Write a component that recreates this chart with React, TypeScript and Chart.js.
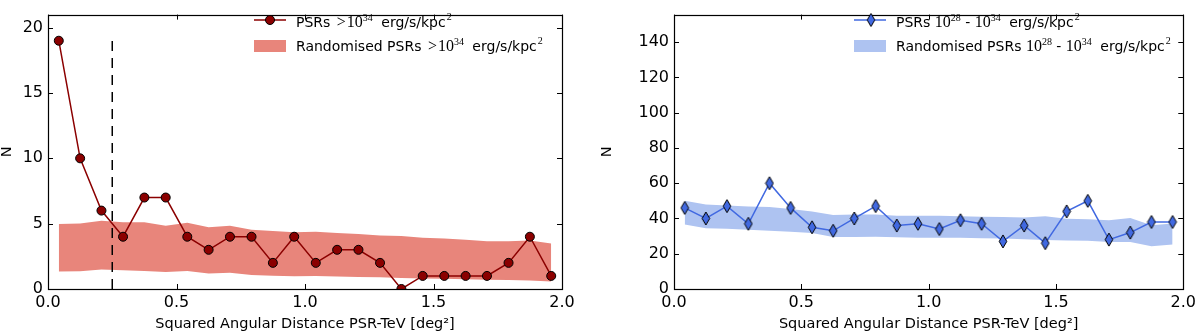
import React, { useEffect, useRef } from "react";
import { Chart, registerables } from "chart.js";

Chart.register(...registerables);

// ---------- data ----------
const binCenters = [0.042, 0.125, 0.208, 0.292, 0.375, 0.458, 0.542, 0.625, 0.708, 0.792, 0.875, 0.958, 1.042, 1.125, 1.208, 1.292, 1.375, 1.458, 1.542, 1.625, 1.708, 1.792, 1.875, 1.958];
const highCounts = [19, 10, 6, 4, 7, 7, 4, 3, 4, 4, 2, 4, 2, 3, 3, 2, 0, 1, 1, 1, 1, 2, 4, 1];
const highRandUpper = [4.97, 5.02, 5.22, 5.1, 5.1, 4.85, 5.07, 4.73, 4.85, 4.54, 4.44, 4.34, 4.39, 4.29, 4.2, 4.1, 4.05, 3.93, 3.86, 3.76, 3.66, 3.66, 3.71, 3.49];
const highRandLower = [1.33, 1.36, 1.5, 1.43, 1.38, 1.31, 1.38, 1.19, 1.24, 1.08, 1.02, 0.98, 1.0, 0.95, 0.92, 0.9, 0.85, 0.8, 0.78, 0.75, 0.7, 0.68, 0.65, 0.58];
const midCounts = [46, 40, 47, 37, 60, 46, 35, 33, 40, 47, 36, 37, 34, 39, 37, 27, 36, 26, 44, 50, 28, 32, 38, 38];
const midRandUpper = [50, 47.9, 47.3, 46.8, 46.5, 45.3, 44.0, 42.0, 42.2, 42.3, 41.5, 41.5, 41.5, 41.2, 41.0, 40.8, 40.6, 41.2, 39.9, 39.5, 39.0, 40.2, 36.2, 37.1];
const midRandLower = [36.6, 34.5, 34.1, 33.6, 33.0, 32.5, 31.8, 29.5, 29.5, 29.6, 29.3, 29.1, 29.1, 29.0, 28.8, 28.6, 28.2, 27.8, 27.5, 27.3, 26.7, 26.6, 24.2, 25.3];
const cutX = [0.25, 0.25];
const cutY = [0, 19];
const xTicks = [0, 0.5, 1.0, 1.5, 2.0];
const leftYTicks = [0, 5, 10, 15, 20];
const rightYTicks = [0, 20, 40, 60, 80, 100, 120, 140];
const xTitle = "Squared Angular Distance PSR-TeV [deg²]";
const yTitle = "N";

// ---------- styles ----------
const SANS = "'DejaVu Sans', sans-serif";
const SERIF = "'Liberation Serif', serif";
const RED = "#8b0000";
const RED_BAND = "#e8857b";
const BLUE = "#4169e1";
const BLUE_BAND = "#aec3f1";

type Seg = { t: string; font: string; dy?: number; gap?: number };
const s14 = `14px ${SANS}`;
const m16 = `16px ${SERIF}`;
const m10 = `10px ${SERIF}`;

const unitSegs: Seg[] = [
  { t: " erg/s/kpc", font: s14, gap: 4 },
  { t: "2", font: m10, dy: -7, gap: 1 },
];
const highLabel: Seg[] = [
  { t: "PSRs ", font: s14 },
  { t: ">", font: m16, gap: 2 },
  { t: "10", font: m16, gap: 1 },
  { t: "34", font: m10, dy: -6 },
  ...unitSegs,
];
const midLabel: Seg[] = [
  { t: "10", font: m16 },
  { t: "28", font: m10, dy: -6 },
  { t: " - ", font: s14 },
  { t: "10", font: m16 },
  { t: "34", font: m10, dy: -6 },
  ...unitSegs,
];

function pts(xs: number[], ys: number[]) {
  return xs.map((x, i) => ({ x, y: ys[i] }));
}

function drawSegs(ctx: CanvasRenderingContext2D, segs: Seg[], x: number, y: number) {
  let cx = x;
  for (const s of segs) {
    cx += s.gap || 0;
    ctx.font = s.font;
    ctx.fillText(s.t, cx, y + (s.dy || 0));
    cx += ctx.measureText(s.t).width;
  }
}

function makeDiamond(): HTMLCanvasElement {
  const c = document.createElement("canvas");
  c.width = 10;
  c.height = 15;
  const g = c.getContext("2d")!;
  g.beginPath();
  g.moveTo(5, 1);
  g.lineTo(8.8, 7.5);
  g.lineTo(5, 14);
  g.lineTo(1.2, 7.5);
  g.closePath();
  g.fillStyle = BLUE;
  g.fill();
  g.lineWidth = 1;
  g.strokeStyle = "#000";
  g.stroke();
  return c;
}

type Spec = {
  ymax: number;
  yTicks: number[];
  yWidth: number;
  padRight: number;
  counts: number[];
  upper: number[];
  lower: number[];
  color: string;
  band: string;
  diamond: boolean;
  showCut: boolean;
  row1: Seg[];
  row2: Seg[];
};

function buildChart(canvas: HTMLCanvasElement, sp: Spec) {
  const diamond = sp.diamond ? makeDiamond() : null;
  const datasets: any[] = [
    {
      label: "data",
      data: pts(binCenters, sp.counts),
      borderColor: sp.color,
      borderWidth: 1.5,
      pointStyle: diamond ? diamond : "circle",
      pointRadius: 4.5,
      pointBackgroundColor: sp.color,
      pointBorderColor: "#000",
      pointBorderWidth: 1,
      tension: 0,
      fill: false,
      clip: 0,
    },
  ];
  if (sp.showCut) {
    datasets.push({
      label: "cut",
      data: pts(cutX, cutY),
      borderColor: "#000",
      borderWidth: 1.5,
      borderDash: [10, 7],
      pointRadius: 0,
      fill: false,
    });
  }
  const lowerIndex = datasets.length;
  datasets.push({
    label: "lower",
    data: pts(binCenters, sp.lower),
    borderWidth: 0,
    borderColor: "rgba(0,0,0,0)",
    pointRadius: 0,
    fill: false,
  });
  datasets.push({
    label: "upper",
    data: pts(binCenters, sp.upper),
    borderWidth: 0,
    borderColor: "rgba(0,0,0,0)",
    backgroundColor: sp.band,
    pointRadius: 0,
    fill: { target: lowerIndex },
  });

  const framePlugin = {
    id: "frameTicks",
    afterDatasetsDraw(chart: any) {
      const { ctx, chartArea: a, scales } = chart;
      ctx.save();
      ctx.strokeStyle = "#000";
      ctx.lineWidth = 1;
      ctx.beginPath();
      for (const v of xTicks) {
        const px = Math.round(scales.x.getPixelForValue(v)) + 0.5;
        ctx.moveTo(px, a.bottom);
        ctx.lineTo(px, a.bottom - 5);
        ctx.moveTo(px, a.top);
        ctx.lineTo(px, a.top + 5);
      }
      for (const v of sp.yTicks) {
        const py = Math.round(scales.y.getPixelForValue(v)) + 0.5;
        ctx.moveTo(a.left, py);
        ctx.lineTo(a.left + 5, py);
        ctx.moveTo(a.right, py);
        ctx.lineTo(a.right - 5, py);
      }
      ctx.stroke();
      ctx.lineWidth = 1.2;
      ctx.strokeRect(Math.round(a.left) + 0.5, Math.round(a.top) + 0.5, Math.round(a.right - a.left), Math.round(a.bottom - a.top));
      ctx.restore();
    },
    afterDraw(chart: any) {
      const { ctx } = chart;
      ctx.save();
      const y1 = 20;
      const y2 = 46;
      // row 1: line + marker
      ctx.strokeStyle = sp.color;
      ctx.lineWidth = 1.5;
      ctx.beginPath();
      ctx.moveTo(254, y1);
      ctx.lineTo(286, y1);
      ctx.stroke();
      if (diamond) {
        ctx.drawImage(diamond, 271 - diamond.width / 2, y1 - diamond.height / 2);
      } else {
        ctx.beginPath();
        ctx.arc(270, y1, 4.5, 0, Math.PI * 2);
        ctx.fillStyle = sp.color;
        ctx.fill();
        ctx.strokeStyle = "#000";
        ctx.lineWidth = 1;
        ctx.stroke();
      }
      // row 2: band patch
      ctx.fillStyle = sp.band;
      ctx.fillRect(254, y2 - 6, 32, 12);
      ctx.fillStyle = "#000";
      ctx.textBaseline = "alphabetic";
      ctx.textAlign = "left";
      drawSegs(ctx, sp.row1, 296, 26.5);
      drawSegs(ctx, sp.row2, 296, 50.7);
      ctx.restore();
    },
  };

  return new Chart(canvas, {
    type: "line",
    data: { datasets },
    plugins: [framePlugin],
    options: {
      animation: false,
      responsive: false,
      devicePixelRatio: 1,
      layout: { padding: { left: 0, right: sp.padRight, top: 1, bottom: 0 } },
      plugins: { legend: { display: false }, tooltip: { enabled: false } },
      scales: {
        x: {
          type: "linear",
          min: 0,
          max: 2,
          afterBuildTicks: (s: any) => {
            s.ticks = xTicks.map((v) => ({ value: v }));
          },
          afterFit: (s: any) => {
            s.height = 45;
          },
          ticks: {
            color: "#000",
            font: { family: SANS, size: 16 },
            padding: 4,
            maxRotation: 0,
            callback: (v: any) => Number(v).toFixed(1),
          },
          grid: { display: false, drawTicks: false },
          border: { display: false },
          title: {
            display: true,
            text: xTitle,
            color: "#000",
            font: { family: SANS, size: 14.5 },
            padding: { top: 0, bottom: 1 },
          },
        },
        y: {
          type: "linear",
          min: 0,
          max: sp.ymax,
          afterBuildTicks: (s: any) => {
            s.ticks = sp.yTicks.map((v) => ({ value: v }));
          },
          afterFit: (s: any) => {
            s.width = sp.yWidth;
          },
          ticks: {
            color: "#000",
            font: { family: SANS, size: 16 },
            padding: 5,
            callback: (v: any) => String(v),
          },
          grid: { display: false, drawTicks: false },
          border: { display: false },
          title: {
            display: true,
            text: yTitle,
            color: "#000",
            font: { family: SANS, size: 14.5, lineHeight: 1 },
            padding: { top: 0, bottom: 0 },
          },
        },
      },
    } as any,
  });
}

export default function App() {
  const leftRef = useRef<HTMLCanvasElement>(null);
  const rightRef = useRef<HTMLCanvasElement>(null);

  useEffect(() => {
    const left = buildChart(leftRef.current!, {
      ymax: 21,
      yTicks: leftYTicks,
      yWidth: 48,
      padRight: 38,
      counts: highCounts,
      upper: highRandUpper,
      lower: highRandLower,
      color: RED,
      band: RED_BAND,
      diamond: false,
      showCut: true,
      row1: highLabel,
      row2: [{ t: "Randomised ", font: s14 }, ...highLabel],
    });
    const right = buildChart(rightRef.current!, {
      ymax: 155.6,
      yTicks: rightYTicks,
      yWidth: 74,
      padRight: 13,
      counts: midCounts,
      upper: midRandUpper,
      lower: midRandLower,
      color: BLUE,
      band: BLUE_BAND,
      diamond: true,
      showCut: false,
      row1: [{ t: "PSRs ", font: s14 }, ...midLabel],
      row2: [{ t: "Randomised PSRs ", font: s14 }, ...midLabel],
    });
    return () => {
      left.destroy();
      right.destroy();
    };
  }, []);

  return (
    <div style={{ position: "fixed", left: 0, top: 0, width: 1200, height: 334, background: "#fff" }}>
      <canvas ref={leftRef} width={600} height={334} style={{ position: "absolute", left: 0, top: 0, width: 600, height: 334 }} />
      <canvas ref={rightRef} width={600} height={334} style={{ position: "absolute", left: 600, top: 0, width: 600, height: 334 }} />
    </div>
  );
}
